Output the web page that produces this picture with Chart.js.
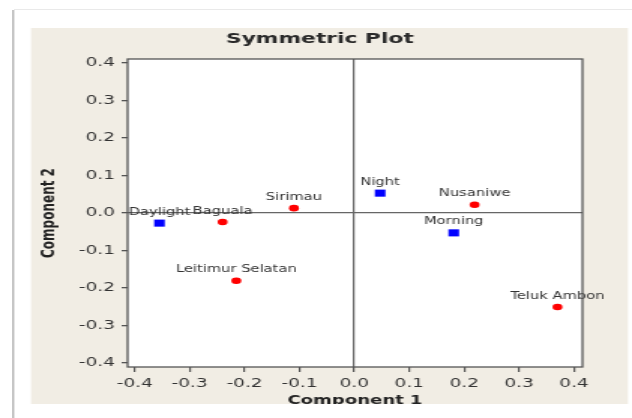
<!DOCTYPE html>
<html><head><meta charset="utf-8">
<script src="https://cdn.jsdelivr.net/npm/chart.js@4.4.1/dist/chart.umd.min.js"></script>
<style>
html,body{margin:0;padding:0;background:#fff;width:632px;height:418px;overflow:hidden;}
#frameL{position:absolute;left:12px;top:10px;width:2px;height:408px;background:#c6c6c6;}
#frameL2{position:absolute;left:14px;top:10px;width:1px;height:408px;background:#e6e6e6;}
#frameT{position:absolute;left:14px;top:9px;width:618px;height:1px;background:#e9e9e9;}
#wrap{position:absolute;left:0;top:0;width:421px;height:418px;transform:scaleX(1.501188);transform-origin:0 0;}
</style></head><body>
<div id="frameL"></div><div id="frameL2"></div><div id="frameT"></div>
<div id="wrap"><canvas id="c" width="421" height="418"></canvas></div>
<script>
// Row points (districts) - red circles
const rowLabels = ['Sirimau', 'Nusaniwe', 'Baguala', 'Teluk Ambon', 'Leitimur Selatan'];
const rowX = [-0.110, 0.219, -0.240, 0.370, -0.215];
const rowY = [0.013, 0.022, -0.024, -0.251, -0.181];
// Column points (time of day) - blue squares
const colLabels = ['Morning', 'Daylight', 'Night'];
const colX = [0.181, -0.355, 0.047];
const colY = [-0.053, -0.027, 0.053];
// Tick values
const xTicks = [-0.4, -0.3, -0.2, -0.1, 0, 0.1, 0.2, 0.3, 0.4];
const yTicks = [-0.4, -0.3, -0.2, -0.1, 0, 0.1, 0.2, 0.3, 0.4];

const S = 632 / 421;
const FONT = 'DejaVu Sans';

const panelPlugin = {
  id: 'panel',
  beforeDraw(chart) {
    const ctx = chart.ctx, a = chart.chartArea;
    ctx.save();
    ctx.fillStyle = '#f1ede4';
    ctx.fillRect(31 / S, 28, (628 - 31) / S, 404 - 28);
    ctx.fillStyle = '#ffffff';
    ctx.fillRect(a.left, a.top, a.right - a.left, a.bottom - a.top);
    ctx.restore();
  },
  afterDatasetsDraw(chart) {
    const ctx = chart.ctx;
    ctx.save();
    ctx.font = '9.8px "' + FONT + '"';
    ctx.fillStyle = '#333333';
    ctx.textAlign = 'center';
    ctx.textBaseline = 'middle';
    chart.data.datasets.forEach((ds, di) => {
      const meta = chart.getDatasetMeta(di);
      meta.data.forEach((pt, i) => {
        ctx.fillText(ds.names[i], pt.x, pt.y - 11);
      });
    });
    ctx.restore();
  },
  afterDraw(chart) {
    const ctx = chart.ctx, a = chart.chartArea;
    ctx.save();
    ctx.strokeStyle = '#555555';
    ctx.lineWidth = 1.3;
    ctx.strokeRect(a.left, a.top, a.right - a.left, a.bottom - a.top);
    ctx.clearRect(0, 404, chart.width, 20);
    ctx.restore();
  }
};

const gridCfg = (w) => ({
  drawOnChartArea: true,
  drawTicks: true,
  color: c => (c.tick && c.tick.value === 0) ? '#666666' : 'rgba(0,0,0,0)',
  lineWidth: w,
  tickColor: '#555555',
  tickWidth: w,
});

new Chart(document.getElementById('c'), {
  type: 'scatter',
  data: {
    datasets: [
      {
        names: rowLabels,
        data: rowX.map((x, i) => ({ x: x, y: rowY[i] })),
        pointStyle: 'circle',
        pointRadius: 3.3,
        backgroundColor: '#ff0000',
        borderColor: '#ff0000',
        borderWidth: 0
      },
      {
        names: colLabels,
        data: colX.map((x, i) => ({ x: x, y: colY[i] })),
        pointStyle: 'rect',
        pointRadius: 5,
        backgroundColor: '#0000ff',
        borderColor: '#0000ff',
        borderWidth: 0
      }
    ]
  },
  options: {
    responsive: false,
    animation: false,
    layout: { padding: { left: 5, right: 0, top: 0, bottom: 0 } },
    plugins: {
      legend: { display: false },
      tooltip: { enabled: false },
      title: {
        display: true,
        text: 'Symmetric Plot',
        color: '#2a2a2a',
        font: { family: FONT, size: 14.5, weight: 'bold' },
        padding: { top: 30.5, bottom: 11.1 }
      }
    },
    scales: {
      x: {
        type: 'linear',
        min: -0.413,
        max: 0.4155,
        afterBuildTicks: s => { s.ticks = xTicks.map(v => ({ value: v })); },
        afterFit: s => { s.height = 51; },
        grid: Object.assign(gridCfg(1.2), { tickLength: 5 }),
        border: { display: false },
        ticks: {
          color: '#333333',
          font: { family: FONT, size: 12.3 },
          padding: 4,
          maxRotation: 0,
          callback: v => Number(v).toFixed(1)
        },
        title: {
          display: true,
          text: 'Component 1',
          color: '#222222',
          font: { family: FONT, size: 12, weight: 'bold' },
          padding: { top: 9.8, bottom: 9.8 }
        }
      },
      y: {
        type: 'linear',
        min: -0.411,
        max: 0.411,
        afterBuildTicks: s => { s.ticks = yTicks.map(v => ({ value: v })); },
        afterFit: s => { s.width = 80; },
        grid: Object.assign(gridCfg(1.3), { tickLength: 4 }),
        border: { display: false },
        ticks: {
          color: '#333333',
          font: { family: FONT, size: 12.3 },
          padding: 4.4,
          callback: v => Number(v).toFixed(1)
        },
        title: {
          display: true,
          text: 'Component 2',
          color: '#222222',
          font: { family: FONT, size: 12, weight: 'bold' },
          padding: { top: 21.1, bottom: 21.1 }
        }
      },
      yR: {
        type: 'linear',
        position: 'right',
        display: true,
        grid: { display: false },
        border: { display: false },
        ticks: { display: false },
        afterFit: s => { s.width = 33; }
      }
    }
  },
  plugins: [panelPlugin]
});
</script>
</body></html>
